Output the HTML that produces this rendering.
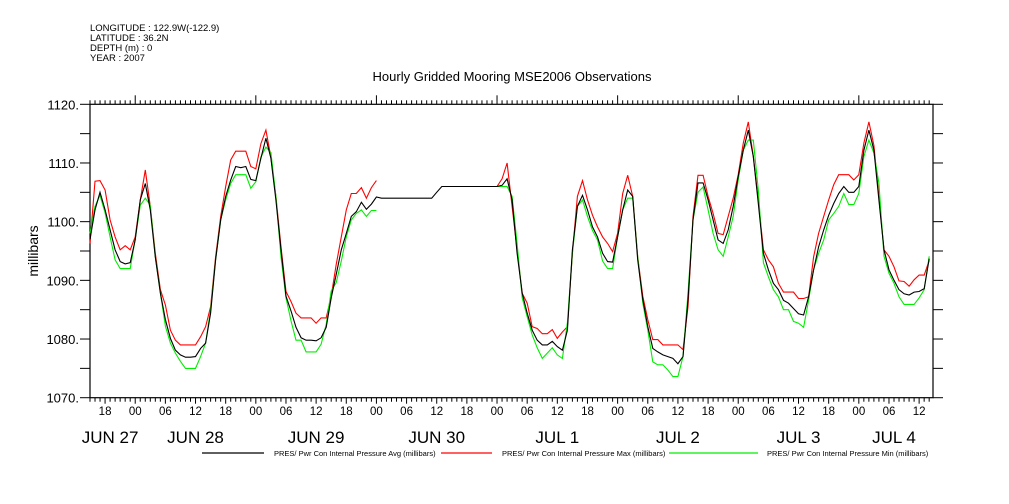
<!DOCTYPE html>
<html><head><meta charset="utf-8"><style>
body{margin:0;background:#fff;}
svg{display:block;font-family:"Liberation Sans",sans-serif;}
</style></head><body>
<svg id="chart" width="1009" height="504" viewBox="0 0 1009 504" xmlns="http://www.w3.org/2000/svg">
<g font-size="9.5" fill="#000">
<text x="90" y="31">LONGITUDE : 122.9W(-122.9)</text>
<text x="90" y="41">LATITUDE : 36.2N</text>
<text x="90" y="51">DEPTH (m) : 0</text>
<text x="90" y="61">YEAR : 2007</text>
</g>
<text x="512" y="81" text-anchor="middle" font-size="13">Hourly Gridded Mooring MSE2006 Observations</text>
<text transform="translate(38,251) rotate(-90)" text-anchor="middle" font-size="14">millibars</text>
<g id="axes"></g>
<g id="series"></g>
<g id="legend" font-size="7.5"></g>
</svg>
<script>
const yTicks=[1070,1080,1090,1100,1110,1120];
const hourLabels=["18","00","06","12"];
const dateLabels=["JUN 27","JUN 28","JUN 29","JUN 30","JUL  1","JUL  2","JUL  3","JUL  4"];
const dateCenters=[4,21,45,69,93,117,141,160];
const startHour=15;
const seriesNames=["PRES/ Pwr Con Internal Pressure Avg (millibars)","PRES/ Pwr Con Internal Pressure Max (millibars)","PRES/ Pwr Con Internal Pressure Min (millibars)"];
const avgVals=[1097,1102,1105,1102,1098.6,1095.2,1093.2,1092.8,1093,1096.9,1103.7,1106.5,1102,1094,1087.8,1083.3,1080.1,1078.1,1077.3,1076.9,1076.9,1077,1078.4,1079.3,1084.4,1093.5,1100.3,1104.3,1107.1,1109.4,1109.2,1109.4,1107.2,1107,1110.8,1114.2,1110.8,1103.7,1095.2,1087.3,1084.8,1082,1080.2,1079.8,1079.8,1079.7,1080.2,1082,1087,1091,1095.2,1098,1100.9,1101.7,1103.3,1102.1,1103,1104.2,
1104,1104,1104,1104,1104,1104,1104,1104,1104,1104,1104,1105,1106,1106,1106,1106,1106,1106,1106,1106,1106,1106,1106,
1106,1106.2,1107.3,1103.7,1094.6,1087.8,1084.4,1081.5,1079.8,1079,1079,1079.6,1078.7,1078.1,1081.5,1095.2,1102.6,1104.5,1102,1099.1,1097.4,1094.6,1093.2,1093.1,1097.4,1102,1105.4,1104.3,1093.5,1086.7,1082.1,1078.4,1077.8,1077.3,1077,1076.7,1075.8,1077,1086.7,1100.3,1106.6,1106.6,1103.7,1100.3,1096.9,1096.3,1098.6,1102.6,1107.7,1112.2,1115.6,1111.1,1103.1,1094.6,1091.8,1089.5,1088.4,1086.6,1086.1,1085.2,1084.3,1084.1,1087.2,1091.8,1095.7,1098.6,1101.1,1103.1,1104.8,1106,1105,1105,1106,1112.2,1115.6,1112.2,1103.7,1095.2,1091.8,1090,1088.4,1087.7,1087.5,1088,1088.1,1088.6,1093.7];
const maxVals=[1096.3,1106.9,1107,1105.4,1100.3,1097.4,1095.2,1095.9,1095.2,1097.4,1103.7,1108.8,1102.6,1094.6,1088.4,1085.8,1081.5,1079.8,1079,1079,1079,1079,1080.4,1082.1,1085.5,1094,1100.9,1106,1110.5,1112,1112,1112,1109.4,1109,1113.3,1115.6,1111,1104.3,1095.7,1088.1,1086.4,1084.4,1083.6,1083.6,1083.6,1082.7,1083.6,1083.6,1087.3,1092.7,1097.4,1102,1104.8,1104.8,1105.8,1104,1105.8,1107,
null,null,null,null,null,null,null,null,null,null,null,null,null,null,null,null,null,null,null,null,null,null,null,
1106,1107.3,1110,1102.6,1095.2,1087.8,1086.1,1082.1,1081.8,1080.9,1080.9,1081.6,1080.1,1081.2,1082.1,1094.6,1104.3,1107,1103.7,1101.1,1099.1,1097.4,1096.3,1094.9,1098,1104.8,1107.9,1104.3,1094,1087.3,1083.3,1079.9,1079.9,1079,1079,1079,1079,1078.2,1085.5,1100.9,1107.9,1107.9,1104.3,1101.4,1098,1097.8,1100.9,1104,1108,1113.4,1117,1111.1,1103.7,1095.2,1093.5,1092.3,1089.5,1088,1088,1088,1086.9,1086.9,1087.2,1094,1098,1100.9,1103.7,1106.3,1108,1108,1108,1107.1,1108,1113.4,1117,1113,1104.3,1095.2,1094.1,1092.3,1089.9,1089.8,1089,1090.1,1090.9,1090.9,1093.4];
const minVals=[1098,1102.6,1104.5,1101.5,1097.4,1093.5,1092,1092,1092,1097,1102.8,1104,1102.8,1094,1087.8,1082.2,1079.3,1077.6,1076.2,1075,1075,1075,1077,1079.3,1085,1093.5,1100.3,1103.7,1106.5,1108,1108,1108,1105.7,1106.8,1111,1112.7,1111.8,1104.3,1094,1087,1083.1,1079.8,1079.8,1077.8,1077.8,1077.8,1079.1,1082.5,1088.2,1089.6,1093.3,1097.4,1100.3,1101.4,1102,1100.9,1101.9,1101.9,
null,null,null,null,null,null,null,null,null,null,null,null,null,null,null,null,null,null,null,null,null,null,null,
1106,1106,1106,1104.3,1096.3,1087,1083.8,1080.7,1078.5,1076.7,1077.6,1078.5,1077.3,1076.7,1082.8,1094.6,1102.6,1103.7,1100.9,1098.5,1096.9,1093.3,1092,1092,1097.4,1102,1104,1104,1094,1086.1,1081.5,1076.1,1075.6,1075.6,1074.7,1073.6,1073.6,1077,1087.8,1100.3,1105,1105.9,1102,1098,1095.2,1094.1,1097.4,1100.9,1107.1,1112.2,1113.9,1113.9,1105.4,1093,1090.6,1088.4,1087.2,1085,1085,1083,1082.7,1082,1086.6,1091.8,1094.6,1096.9,1100.3,1101.4,1102.6,1104.8,1102.9,1102.9,1104.8,1111.1,1113.9,1111.7,1106.6,1094.1,1091.2,1089.5,1087.2,1085.9,1085.9,1085.9,1087,1088.4,1094.1];

const NS="http://www.w3.org/2000/svg";
const X0=90,X1=933,Y0=104.3,Y1=397.7,HPX=5.025;
const xS=h=>X0+h*HPX;
const yS=v=>Y1-(v-1070)/(1120-1070)*(Y1-Y0);
function mk(tag,attrs,parent){const e=document.createElementNS(NS,tag);for(const k in attrs)e.setAttribute(k,attrs[k]);parent.appendChild(e);return e;}
const axes=document.getElementById('axes');
const frame=mk('rect',{x:X0,y:Y0,width:X1-X0,height:Y1-Y0,fill:'none',stroke:'#000','stroke-width':1.2},axes);


for(let v=1070;v<=1120;v+=5){
  const y=yS(v);
  const t1=mk('line',{x1:X0-10,x2:X0,y1:y,y2:y,stroke:'#000'},axes);
  
  
  const t2=mk('line',{x1:X1,x2:X1+10,y1:y,y2:y,stroke:'#000'},axes);
  
  
}
yTicks.forEach(v=>{
  const t=mk('text',{x:X0-11,y:yS(v)+5,'text-anchor':'end','font-size':13},axes);
  t.textContent=v+'.';
  
  
});
for(let h=0;h<=167;h++){
  const x=xS(h);const hr=(h+startHour)%24;
  const len=hr===0?9:4;
  const a=mk('line',{x1:x,x2:x,y1:Y0,y2:Y0-len,stroke:'#000'},axes);
  
  
  const b=mk('line',{x1:x,x2:x,y1:Y1,y2:Y1+(hr%6===0?6:4),stroke:'#000'},axes);
  
  
  if(hr%6===0){
    const t=mk('text',{x:x,y:415,'text-anchor':'middle','font-size':11.5},axes);
    t.textContent=hourLabels[[18,0,6,12].indexOf(hr)];
    
    
  }
}
dateLabels.forEach((d,i)=>{
  const t=mk('text',{x:xS(dateCenters[i]),y:443,'text-anchor':'middle','font-size':17,'xml:space':'preserve'},axes);
  t.textContent=d;
  
  
});
const ser=document.getElementById('series');
function drawLine(vals,color,name){
  let d='',pen=false;
  vals.forEach((v,h)=>{if(v==null){pen=false;return;}d+=(pen?'L':'M')+xS(h).toFixed(1)+' '+yS(v).toFixed(1);pen=true;});
  const p=mk('path',{d:d,fill:'none',stroke:color,'stroke-width':1.1},ser);
  
  
}
drawLine(maxVals,'#ff0000','max-series-line');
drawLine(minVals,'#00ee00','min-series-line');
drawLine(avgVals,'#000000','avg-series-line');
const lg=document.getElementById('legend');
const lx=[[202,264,274],[441,492,502],[669,758,767]];
const cols=['#000','#ff0000','#00ee00'];
lx.forEach((l,i)=>{
  const ln=mk('line',{x1:l[0],x2:l[1],y1:453,y2:453,stroke:cols[i],'stroke-width':1.2},lg);
  
  
  const t=mk('text',{x:l[2],y:456},lg);
  t.textContent=seriesNames[i];
  
  
});
</script>
</body></html>
